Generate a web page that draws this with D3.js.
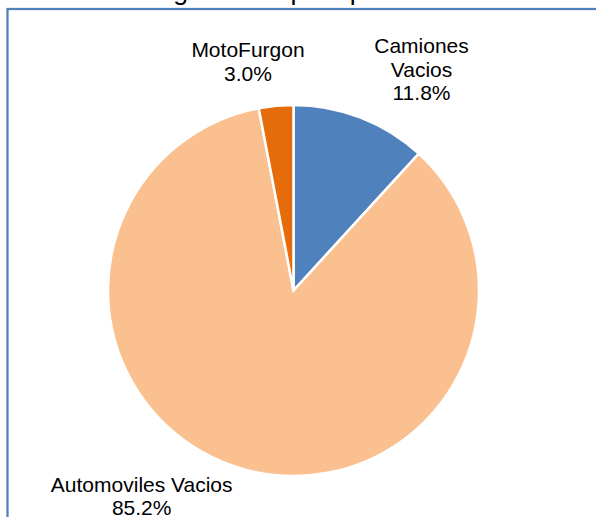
<!DOCTYPE html>
<html>
<head>
<meta charset="utf-8">
<script src="https://cdn.jsdelivr.net/npm/d3@7"></script>
<style>
  body { margin: 0; background: #fff; }
  svg { display: block; font-family: "Liberation Sans", Arial, sans-serif; }
</style>
</head>
<body>
<div id="chart"></div>
<script>
// chart values
var labels = ["Camiones Vacios", "Automoviles Vacios", "MotoFurgon"];
var labelLines = [["Camiones", "Vacios"], ["Automoviles Vacios"], ["MotoFurgon"]];
var values = [11.8, 85.2, 3.0];
var colors = ["#4f81bd", "#fac090", "#e46c0a"];
var titleText = "Ingresados por tipo de";

var width = 596, height = 517;
var cx = 293.5, cy = 290.5, r = 185.5;

var svg = d3.select("#chart").append("svg")
    .attr("width", width)
    .attr("height", height);

// title (mostly cut off at the top)
svg.append("text")
    .attr("x", 151)
    .attr("y", 0)
    .attr("font-size", 26.7)
    .attr("fill", "#000")
    .text(titleText);

// chart frame, runs off the right and bottom edges
svg.append("rect")
    .attr("x", 7.5)
    .attr("y", 9)
    .attr("width", 640)
    .attr("height", 560)
    .attr("fill", "none")
    .attr("stroke", "#4f81bd")
    .attr("stroke-width", 2.25);

var data = labels.map(function(d, i) {
  return { label: d, lines: labelLines[i], val: values[i], color: colors[i] };
});

var pie = d3.pie()
    .sort(null)
    .value(function(d) { return d.val; });

var arc = d3.arc()
    .innerRadius(0)
    .outerRadius(r);

var g = svg.append("g")
    .attr("transform", "translate(" + cx + "," + cy + ")");

g.selectAll("path")
    .data(pie(data))
  .enter().append("path")
    .attr("d", arc)
    .attr("fill", function(d) { return d.data.color; })
    .attr("stroke", "#fff")
    .attr("stroke-width", 2.5)
    .attr("stroke-linejoin", "miter");

// data labels (outside end), positions picked to match the reference
var labelPos = [
  { x: 421.5, y: 53.3 },
  { x: 141.7, y: 491.7 },
  { x: 248, y: 57.3 }
];
var lineH = 23.3;

var lbl = svg.selectAll(".lbl")
    .data(data)
  .enter().append("text")
    .attr("class", "lbl")
    .attr("text-anchor", "middle")
    .attr("font-size", 21)
    .attr("fill", "#000");

lbl.each(function(d, i) {
  var t = d3.select(this);
  var lines = d.lines.concat([d.val.toFixed(1) + "%"]);
  lines.forEach(function(s, j) {
    t.append("tspan")
      .attr("x", labelPos[i].x)
      .attr("y", labelPos[i].y + j * lineH)
      .text(s);
  });
});
</script>
</body>
</html>
